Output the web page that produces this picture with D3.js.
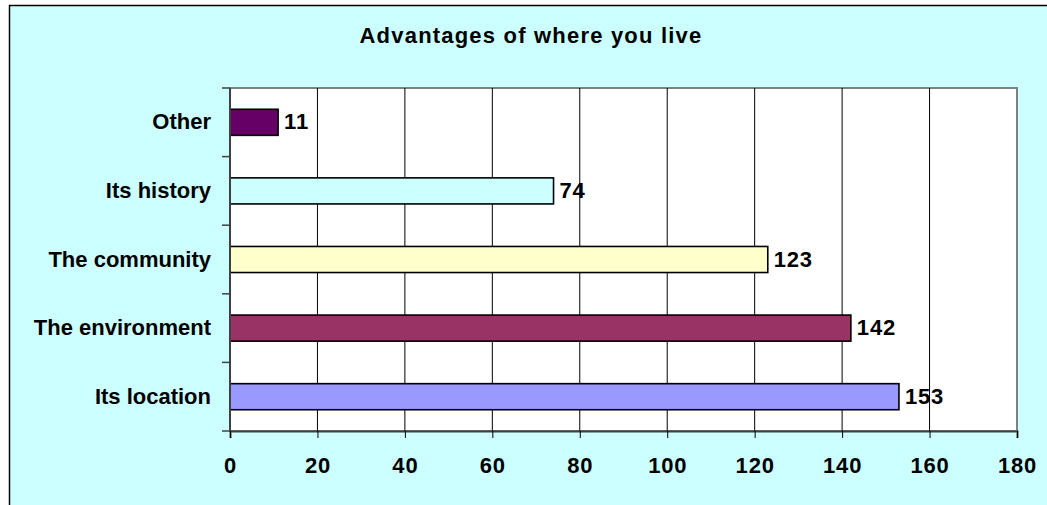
<!DOCTYPE html>
<html>
<head>
<meta charset="utf-8">
<script src="https://cdn.jsdelivr.net/npm/d3@7"></script>
<style>
  body { margin: 0; background: #fff; }
  text { font-family: Arial, "Liberation Sans", sans-serif; font-weight: bold; fill: #000; }
</style>
</head>
<body>
<script>
// data
var categories = ["Other", "Its history", "The community", "The environment", "Its location"];
var values = [11, 74, 123, 142, 153];
var colors = ["#660066", "#CCFFFF", "#FFFFCC", "#993366", "#9999FF"];
var xTicks = [0, 20, 40, 60, 80, 100, 120, 140, 160, 180];
var title = "Advantages of where you live";

// set up svg
var W = 1047, H = 505;
var pLeft = 230, pRight = 1017, pTop = 88, pBottom = 431;

var svg = d3.select("body")
            .append("svg")
            .attr("width", W)
            .attr("height", H);

// chart background
svg.append("rect")
    .attr("x", 9.5).attr("y", 5.5)
    .attr("width", W + 20).attr("height", H + 20)
    .attr("fill", "#CCFFFF")
    .attr("stroke", "#000")
    .attr("stroke-width", 1.5);

svg.append("text")
    .attr("x", 531)
    .attr("y", 43)
    .attr("text-anchor", "middle")
    .style("font-size", "22px")
    .style("letter-spacing", "1.2px")
    .text(title);

var xScale = d3.scaleLinear()
               .domain([0, 180])
               .range([pLeft, pRight]);

var yScale = d3.scaleBand()
               .domain(categories)
               .range([pTop, pBottom])
               .paddingInner(0.62)
               .paddingOuter(0.31);

// plot area
svg.append("rect")
    .attr("x", pLeft).attr("y", pTop)
    .attr("width", pRight - pLeft).attr("height", pBottom - pTop)
    .attr("fill", "#fff")
    .attr("stroke", "#808080")
    .attr("stroke-width", 2);

// grid
svg.append("g")
  .selectAll("line")
  .data(xTicks.slice(1, -1))
  .enter()
  .append("line")
    .attr("x1", (d) => xScale(d))
    .attr("x2", (d) => xScale(d))
    .attr("y1", pTop)
    .attr("y2", pBottom)
    .attr("stroke", "#000")
    .attr("stroke-width", 1);

// bars
svg.append("g")
  .selectAll("rect")
  .data(values)
  .enter()
  .append("rect")
    .attr("x", xScale(0))
    .attr("y", (d, i) => yScale(categories[i]))
    .attr("width", (d) => xScale(d) - xScale(0))
    .attr("height", yScale.bandwidth())
    .attr("fill", (d, i) => colors[i])
    .attr("stroke", "#000")
    .attr("stroke-width", 1.6);

// value labels
svg.append("g")
  .selectAll("text")
  .data(values)
  .enter()
  .append("text")
    .attr("x", (d) => xScale(d) + 6)
    .attr("y", (d, i) => yScale(categories[i]) + yScale.bandwidth() / 2 + 7)
    .style("font-size", "22px")
    .style("letter-spacing", "0.8px")
    .text((d) => d);

// x axis
var xAxis = d3.axisBottom(xScale)
              .tickValues(xTicks)
              .tickSize(7)
              .tickPadding(19)
              .tickFormat(d3.format("d"));

var gx = svg.append("g")
    .attr("transform", "translate(0," + pBottom + ")")
    .call(xAxis);
gx.select(".domain").attr("stroke", "#404040").attr("stroke-width", 2);
gx.selectAll(".tick line").attr("stroke", "#000");
gx.selectAll(".tick text")
    .style("font-size", "22px")
    .style("letter-spacing", "0.8px")
    .style("font-family", "Arial, 'Liberation Sans', sans-serif");

// y axis: category boundary ticks
var gy = svg.append("g");
gy.append("line")
    .attr("x1", pLeft).attr("x2", pLeft)
    .attr("y1", pTop).attr("y2", pBottom)
    .attr("stroke", "#404040")
    .attr("stroke-width", 2);
gy.selectAll(".ytick")
  .data(d3.range(categories.length + 1))
  .enter()
  .append("line")
    .attr("x1", pLeft - 8).attr("x2", pLeft)
    .attr("y1", (i) => pTop + i * yScale.step())
    .attr("y2", (i) => pTop + i * yScale.step())
    .attr("stroke", "#404040")
    .attr("stroke-width", 1.5);
gy.selectAll(".ylabel")
  .data(categories)
  .enter()
  .append("text")
    .attr("x", pLeft - 19)
    .attr("y", (d) => yScale(d) + yScale.bandwidth() / 2 + 7)
    .attr("text-anchor", "end")
    .style("font-size", "22px")
    .text((d) => d);
</script>
</body>
</html>
